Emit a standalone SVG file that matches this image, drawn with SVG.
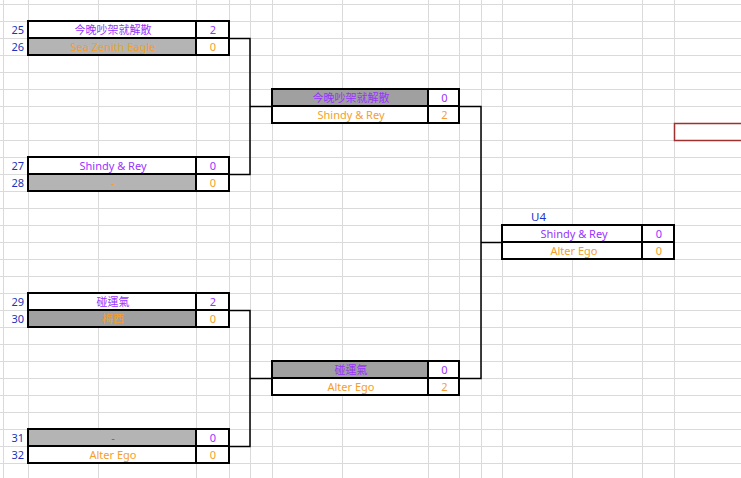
<svg xmlns="http://www.w3.org/2000/svg" width="741" height="478" viewBox="0 0 741 478">
<style>
.grid line{stroke:#dadada;stroke-width:1}
.box{stroke:#000;stroke-width:2;fill:none}
.w{fill:#fff}
.g1{fill:#b4b4b4}
.g2{fill:#a0a0a0}
text{font-family:"Noto Sans","Noto Sans CJK TC",sans-serif;font-size:11px;text-anchor:middle}
.p{fill:#9933ff}
.o{fill:#f59e2a}
.n{fill:#2233bb;text-anchor:end}
.conn path{stroke:#000;stroke-width:1.5;fill:none}
</style>
<rect width="741" height="478" fill="#fff"/>
<g class="grid">
<line x1="0" y1="4.5" x2="741" y2="4.5"/><line x1="0" y1="21.5" x2="741" y2="21.5"/><line x1="0" y1="38.5" x2="741" y2="38.5"/><line x1="0" y1="55.5" x2="741" y2="55.5"/><line x1="0" y1="72.5" x2="741" y2="72.5"/><line x1="0" y1="89.5" x2="741" y2="89.5"/><line x1="0" y1="106.5" x2="741" y2="106.5"/><line x1="0" y1="123.5" x2="741" y2="123.5"/><line x1="0" y1="140.5" x2="741" y2="140.5"/><line x1="0" y1="157.5" x2="741" y2="157.5"/><line x1="0" y1="174.5" x2="741" y2="174.5"/><line x1="0" y1="191.5" x2="741" y2="191.5"/><line x1="0" y1="208.5" x2="741" y2="208.5"/><line x1="0" y1="225.5" x2="741" y2="225.5"/><line x1="0" y1="242.5" x2="741" y2="242.5"/><line x1="0" y1="259.5" x2="741" y2="259.5"/><line x1="0" y1="276.5" x2="741" y2="276.5"/><line x1="0" y1="293.5" x2="741" y2="293.5"/><line x1="0" y1="310.5" x2="741" y2="310.5"/><line x1="0" y1="327.5" x2="741" y2="327.5"/><line x1="0" y1="344.5" x2="741" y2="344.5"/><line x1="0" y1="361.5" x2="741" y2="361.5"/><line x1="0" y1="378.5" x2="741" y2="378.5"/><line x1="0" y1="395.5" x2="741" y2="395.5"/><line x1="0" y1="412.5" x2="741" y2="412.5"/><line x1="0" y1="429.5" x2="741" y2="429.5"/><line x1="0" y1="446.5" x2="741" y2="446.5"/><line x1="0" y1="463.5" x2="741" y2="463.5"/>
<line x1="3.5" y1="0" x2="3.5" y2="478"/><line x1="28.5" y1="0" x2="28.5" y2="478"/><line x1="98.5" y1="0" x2="98.5" y2="478"/><line x1="196.5" y1="0" x2="196.5" y2="478"/><line x1="229.5" y1="0" x2="229.5" y2="478"/><line x1="250.5" y1="0" x2="250.5" y2="478"/><line x1="272.5" y1="0" x2="272.5" y2="478"/><line x1="342.5" y1="0" x2="342.5" y2="478"/><line x1="428.5" y1="0" x2="428.5" y2="478"/><line x1="459.5" y1="0" x2="459.5" y2="478"/><line x1="481.5" y1="0" x2="481.5" y2="478"/><line x1="502.5" y1="0" x2="502.5" y2="478"/><line x1="572.5" y1="0" x2="572.5" y2="478"/><line x1="642.5" y1="0" x2="642.5" y2="478"/><line x1="674.5" y1="0" x2="674.5" y2="478"/>
</g>
<rect x="674.5" y="123.5" width="80" height="17" fill="#fff" stroke="#a03030" stroke-width="1.5"/>
<g class="conn">
<path d="M229 38.5H250V174.5H229"/>
<path d="M250 106.5H272"/>
<path d="M229 310.5H250V446.5H229"/>
<path d="M250 378.5H272"/>
<path d="M459 106.5H481V378.5H459"/>
<path d="M481 242.5H502"/>
</g>
<g id="m1">
<rect class="w" x="28" y="21" width="201" height="17"/><rect class="g1" x="28" y="38" width="168" height="17"/><rect class="w" x="196" y="38" width="33" height="17"/>
<rect class="box" x="28" y="21" width="201" height="34"/><path class="box" d="M28 38H229M196 21V55"/>
<text class="n" x="24" y="34">25</text><text class="n" x="24" y="51">26</text>
<text class="p" x="113" y="34">今晚吵架就解散</text><text class="o" x="113" y="51">Sea Zenith Eagle</text>
<text class="p" x="213" y="34">2</text><text class="o" x="213" y="51">0</text>
</g>
<g id="m2">
<rect class="w" x="28" y="157" width="201" height="17"/><rect class="g1" x="28" y="174" width="168" height="17"/><rect class="w" x="196" y="174" width="33" height="17"/>
<rect class="box" x="28" y="157" width="201" height="34"/><path class="box" d="M28 174H229M196 157V191"/>
<text class="n" x="24" y="170">27</text><text class="n" x="24" y="187">28</text>
<text class="p" x="113" y="170">Shindy &amp; Rey</text><text class="o" x="113" y="187">-</text>
<text class="p" x="213" y="170">0</text><text class="o" x="213" y="187">0</text>
</g>
<g id="m3">
<rect class="w" x="28" y="293" width="201" height="17"/><rect class="g2" x="28" y="310" width="168" height="17"/><rect class="w" x="196" y="310" width="33" height="17"/>
<rect class="box" x="28" y="293" width="201" height="34"/><path class="box" d="M28 310H229M196 293V327"/>
<text class="n" x="24" y="306">29</text><text class="n" x="24" y="323">30</text>
<text class="p" x="113" y="306">碰運氣</text><text class="o" x="113" y="323">梅西</text>
<text class="p" x="213" y="306">2</text><text class="o" x="213" y="323">0</text>
</g>
<g id="m4">
<rect class="g1" x="28" y="429" width="168" height="17"/><rect class="w" x="196" y="429" width="33" height="17"/><rect class="w" x="28" y="446" width="201" height="17"/>
<rect class="box" x="28" y="429" width="201" height="34"/><path class="box" d="M28 446H229M196 429V463"/>
<text class="n" x="24" y="442">31</text><text class="n" x="24" y="459">32</text>
<text class="p" x="113" y="442">-</text><text class="o" x="113" y="459">Alter Ego</text>
<text class="p" x="213" y="442">0</text><text class="o" x="213" y="459">0</text>
</g>
<g id="m5">
<rect class="g2" x="272" y="89" width="156" height="17"/><rect class="w" x="428" y="89" width="31" height="17"/><rect class="w" x="272" y="106" width="187" height="17"/>
<rect class="box" x="272" y="89" width="187" height="34"/><path class="box" d="M272 106H459M428 89V123"/>
<text class="p" x="351" y="102">今晚吵架就解散</text><text class="o" x="351" y="119">Shindy &amp; Rey</text>
<text class="p" x="444.5" y="102">0</text><text class="o" x="444.5" y="119">2</text>
</g>
<g id="m6">
<rect class="g2" x="272" y="361" width="156" height="17"/><rect class="w" x="428" y="361" width="31" height="17"/><rect class="w" x="272" y="378" width="187" height="17"/>
<rect class="box" x="272" y="361" width="187" height="34"/><path class="box" d="M272 378H459M428 361V395"/>
<text class="p" x="351" y="374">碰運氣</text><text class="o" x="351" y="391">Alter Ego</text>
<text class="p" x="444.5" y="374">0</text><text class="o" x="444.5" y="391">2</text>
</g>
<g id="final">
<text x="531" y="221" style="text-anchor:start;fill:#2233cc;font-size:11.5px">U4</text>
<rect class="w" x="502" y="225" width="172" height="34"/>
<rect class="box" x="502" y="225" width="172" height="34"/><path class="box" d="M502 242H674M642 225V259"/>
<text class="p" x="574" y="238">Shindy &amp; Rey</text><text class="o" x="574" y="255">Alter Ego</text>
<text class="p" x="659" y="238">0</text><text class="o" x="659" y="255">0</text>
</g>
</svg>
